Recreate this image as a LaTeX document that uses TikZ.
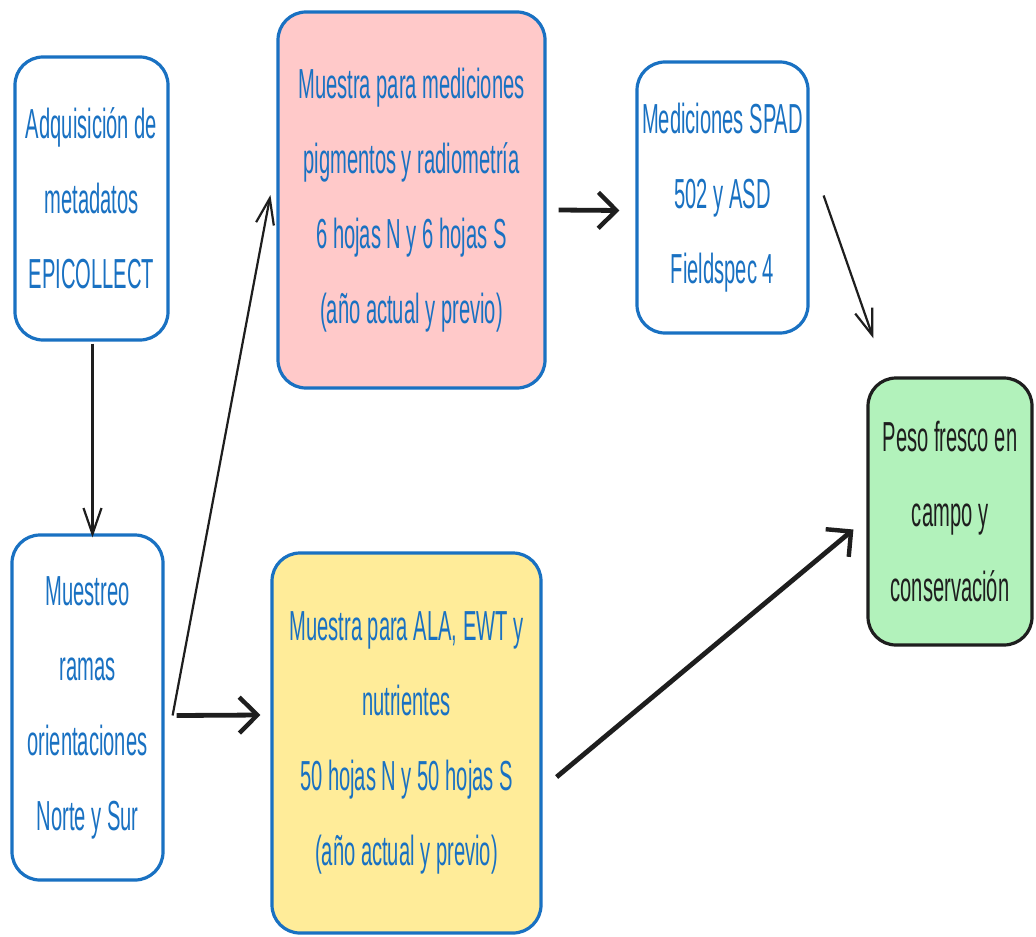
\documentclass[tikz,border=0pt]{standalone}
\usepackage{fontspec}
\setmainfont[FakeStretch=0.48]{Liberation Sans}
\usetikzlibrary{arrows.meta,calc}
\definecolor{xblue}{HTML}{1971C2}
\definecolor{xpink}{HTML}{FFC9C9}
\definecolor{xyellow}{HTML}{FFEC99}
\definecolor{xgreen}{HTML}{B2F2BB}
\definecolor{xink}{HTML}{1E1E1E}
\begin{document}
\begin{tikzpicture}[x=0.5pt,y=-0.5pt,
  box/.style={draw=xblue, line width=1.6pt, rounded corners=14pt, text=xblue,
    align=center, font=\fontsize{21}{37.5}\selectfont, inner sep=0pt},
  thinarr/.style={draw=xink, line width=1.1pt,
    -{Straight Barb[length=13pt,width=9pt,line width=1.1pt]}},
  thickarr/.style={draw=xink, line width=2.4pt,
    -{Straight Barb[length=9pt,width=18pt,line width=2.2pt]}},
]
\path[fill=white] (0,0) rectangle (1036,936);
\useasboundingbox (0,0) rectangle (1036,936);

\node[box, fill=white, minimum width=76.5pt, minimum height=141.5pt] (A) at (91.5,198.5)
  {Adquisición de\\metadatos\\EPICOLLECT};
\node[box, fill=xpink, minimum width=133.5pt, minimum height=188pt] (B) at (411.5,200)
  {Muestra para mediciones\\pigmentos y radiometría\\6 hojas N y 6 hojas S\\(año actual y previo)};
\node[box, fill=white, minimum width=85.5pt, minimum height=135.5pt] (C) at (722.5,197.5)
  {Mediciones SPAD\\502 y ASD\\Fieldspec 4};
\node[box, draw=xink, text=xink, fill=xgreen, minimum width=82pt, minimum height=133.5pt] (D) at (950,511.5)
  {Peso fresco en\\campo y\\conservación};
\node[box, fill=white, minimum width=75.5pt, minimum height=172.5pt] (E) at (87.5,707.5)
  {Muestreo\\ramas\\orientaciones\\Norte y Sur};
\node[box, fill=xyellow, minimum width=134.5pt, minimum height=190pt] (F) at (406.5,743)
  {Muestra para ALA, EWT y\\nutrientes\\50 hojas N y 50 hojas S\\(año actual y previo)};

\draw[thinarr] ([shift={(1,2)}]A.south) -- ([shift={(5,4)}]E.north);
\draw[thinarr] ([shift={(8,8)}]E.east) -- ([shift={(-6,-5)}]B.west);
\draw[thickarr] ([shift={(12,8)}]E.east) -- ([shift={(-10,-28)}]F.west);
\draw[thickarr] ([shift={(12,10)}]B.east) -- ([shift={(-16,13)}]C.west);
\draw[thinarr] ([shift={(14,-2)}]C.east) -- ([shift={(7,-38)}]D.north west);
\draw[thickarr] ([shift={(14,34)}]F.east) -- ([shift={(-13,18)}]D.west);
\end{tikzpicture}
\end{document}
